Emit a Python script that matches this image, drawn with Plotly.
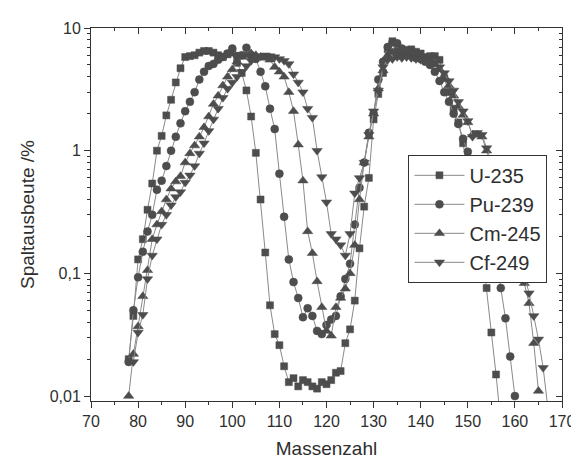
import plotly.graph_objects as go

# ---- data (mass number A, fission yield in %) ----
mass_u235 = list(range(78, 158))
yield_u235 = [0.020, 0.045, 0.13, 0.19, 0.33, 0.54, 1.0, 1.32, 1.94, 2.6,
              3.6, 4.7, 5.8, 5.9, 6.0, 6.3, 6.5, 6.5, 6.3, 6.0,
              5.8, 6.1, 6.3, 5.2, 4.3, 3.1, 1.9, 0.96, 0.40, 0.148,
              0.055, 0.032, 0.026, 0.0175, 0.013, 0.014, 0.012, 0.0135, 0.013, 0.012,
              0.0115, 0.013, 0.0125, 0.0135, 0.0155, 0.016, 0.027, 0.035, 0.06, 0.16,
              0.35, 0.6, 1.8, 2.9, 4.3, 6.7, 7.8, 6.5, 6.3, 6.2,
              6.7, 6.4, 6.2, 5.8, 5.9, 5.9, 5.5, 3.9, 3.0, 2.2,
              1.7, 1.15, 0.65, 0.42, 0.27, 0.16, 0.076, 0.033, 0.015, 0.006]

mass_pu239 = list(range(78, 161))
yield_pu239 = [0.019, 0.05, 0.093, 0.15, 0.22, 0.30, 0.48, 0.57, 0.75, 1.0,
               1.3, 1.67, 2.1, 2.5, 3.0, 3.8, 4.4, 4.9, 5.1, 5.5,
               5.8, 6.2, 6.8, 5.9, 6.0, 6.9, 6.0, 5.6, 4.4, 3.35,
               2.2, 1.5, 0.65, 0.29, 0.13, 0.085, 0.063, 0.044, 0.052, 0.045,
               0.034, 0.032, 0.038, 0.042, 0.045, 0.065, 0.09, 0.12, 0.25, 0.5,
               0.8, 1.4, 2.0, 3.8, 5.3, 7.0, 7.6, 7.5, 6.8, 6.6,
               6.0, 5.7, 5.6, 5.3, 5.0, 4.4, 3.7, 3.0, 2.5, 2.0,
               1.65, 1.25, 0.98, 0.76, 0.58, 0.43, 0.31, 0.21, 0.13, 0.076,
               0.043, 0.021, 0.010]

mass_cm245 = list(range(78, 166))
yield_cm245 = [0.010, 0.022, 0.037, 0.065, 0.106, 0.19, 0.25, 0.32, 0.40, 0.49,
               0.56, 0.62, 0.8, 0.95, 1.1, 1.3, 1.55, 1.9, 2.4, 2.8,
               3.4, 4.0, 4.6, 5.3, 5.8, 6.0, 6.2, 6.0, 5.8, 5.7,
               5.5, 4.8, 4.4, 4.0, 3.0, 2.1, 1.12, 0.57, 0.22, 0.146,
               0.086, 0.053, 0.034, 0.031, 0.053, 0.063, 0.075, 0.10, 0.17, 0.4,
               0.8, 1.3, 2.0, 3.2, 4.5, 6.0, 6.3, 5.8, 6.0, 5.9,
               6.0, 5.8, 5.7, 5.6, 5.4, 5.1, 4.6, 4.0, 3.4, 2.8,
               2.3, 1.95, 1.7, 1.35, 1.35, 1.3, 1.0, 0.75, 0.55, 0.4,
               0.28, 0.2, 0.14, 0.105, 0.083, 0.057, 0.027, 0.011]

mass_cf249 = list(range(79, 168))
yield_cf249 = [0.019, 0.033, 0.046, 0.09, 0.14, 0.19, 0.25, 0.30, 0.36, 0.42,
               0.46, 0.55, 0.63, 0.75, 0.95, 1.15, 1.45, 1.8, 2.2, 2.7,
               3.2, 3.6, 4.0, 4.4, 4.9, 5.4, 5.8, 5.9, 6.0, 5.9,
               5.8, 5.6, 5.4, 5.1, 4.2, 3.6, 3.0, 2.2, 1.86, 1.0,
               0.61, 0.38, 0.21, 0.19, 0.17, 0.14, 0.21, 0.45, 0.6, 0.8,
               1.35, 2.1, 3.1, 4.8, 5.5, 5.6, 5.8, 5.7, 5.8, 5.7,
               5.6, 5.5, 5.6, 5.5, 5.2, 4.8, 4.3, 3.7, 3.1, 2.5,
               2.1, 1.75, 1.3, 1.4, 1.35, 1.05, 0.85, 0.65, 0.5, 0.38,
               0.28, 0.2, 0.14, 0.1, 0.069, 0.045, 0.029, 0.017, 0.008]

series_names = ["U-235", "Pu-239", "Cm-245", "Cf-249"]
x_tickvals = [70, 80, 90, 100, 110, 120, 130, 140, 150, 160, 170]
x_minorvals = [75, 85, 95, 105, 115, 125, 135, 145, 155, 165]
y_tickvals = [0.01, 0.1, 1, 10]
y_ticktext = ["0,01", "0,1", "1", "10"]
y_minorvals = [m * d for d in (0.01, 0.1, 1) for m in range(2, 10)]

# ---- styling ----
marker_col = "#4d4d4d"
line_col = "#8a8a8a"
text_col = "#2e2e2e"
font_family = "Liberation Sans, Arial, sans-serif"

symbols = ["square", "circle", "triangle-up", "triangle-down"]
sizes = [7, 8, 9, 9]
datasets = [(mass_u235, yield_u235), (mass_pu239, yield_pu239),
            (mass_cm245, yield_cm245), (mass_cf249, yield_cf249)]

fig = go.Figure()
for (xs, ys), name, sym, sz in zip(datasets, series_names, symbols, sizes):
    fig.add_trace(go.Scatter(
        x=xs, y=ys, name=name, mode="lines+markers",
        line=dict(color=line_col, width=1),
        marker=dict(symbol=sym, size=sz, color=marker_col,
                    line=dict(color=marker_col, width=0.5)),
    ))

# empty trace for mirrored (inside-tick) axes
fig.add_trace(go.Scatter(x=[], y=[], xaxis="x2", yaxis="y2", showlegend=False))

x_range = [70, 170]
y_range = [-2.04, 1.0]

axis_common = dict(showline=True, linecolor="#333333", linewidth=1,
                   showgrid=False, zeroline=False, tickcolor="#333333")

fig.update_layout(
    width=579, height=460,
    margin=dict(l=83, r=14, t=18, b=62),
    paper_bgcolor="white", plot_bgcolor="white",
    font=dict(family=font_family, color=text_col, size=16),
    xaxis=dict(range=x_range, tickmode="array", tickvals=x_tickvals,
               ticks="outside", ticklen=6,
               minor=dict(tickmode="array", tickvals=x_minorvals,
                          ticks="outside", ticklen=3, tickcolor="#333333"),
               title=dict(text="Massenzahl", font=dict(size=19), standoff=12),
               tickfont=dict(size=16), **axis_common),
    yaxis=dict(type="log", range=y_range, tickmode="array",
               tickvals=y_tickvals, ticktext=y_ticktext,
               ticks="outside", ticklen=6,
               minor=dict(tickmode="array", tickvals=y_minorvals,
                          ticks="outside", ticklen=3, tickcolor="#333333"),
               title=dict(text="Spaltausbeute /%", font=dict(size=19), standoff=10),
               tickfont=dict(size=16), **axis_common),
    xaxis2=dict(range=x_range, overlaying="x", side="top", anchor="y2",
                tickmode="array", tickvals=x_tickvals, ticks="inside", ticklen=6,
                minor=dict(tickmode="array", tickvals=x_minorvals,
                           ticks="inside", ticklen=3, tickcolor="#333333"),
                showticklabels=False, **axis_common),
    yaxis2=dict(type="log", range=y_range, overlaying="y", side="right", anchor="x2",
                tickmode="array", tickvals=y_tickvals, ticks="inside", ticklen=6,
                minor=dict(tickmode="array", tickvals=y_minorvals,
                           ticks="inside", ticklen=3, tickcolor="#333333"),
                showticklabels=False, **axis_common),
    legend=dict(x=0.674, y=0.66, xanchor="left", yanchor="top",
                bgcolor="white", bordercolor="#333333", borderwidth=1,
                font=dict(size=20, color=text_col), itemwidth=50,
                tracegroupgap=0),
    showlegend=True,
)

fig.write_html("out.html")
